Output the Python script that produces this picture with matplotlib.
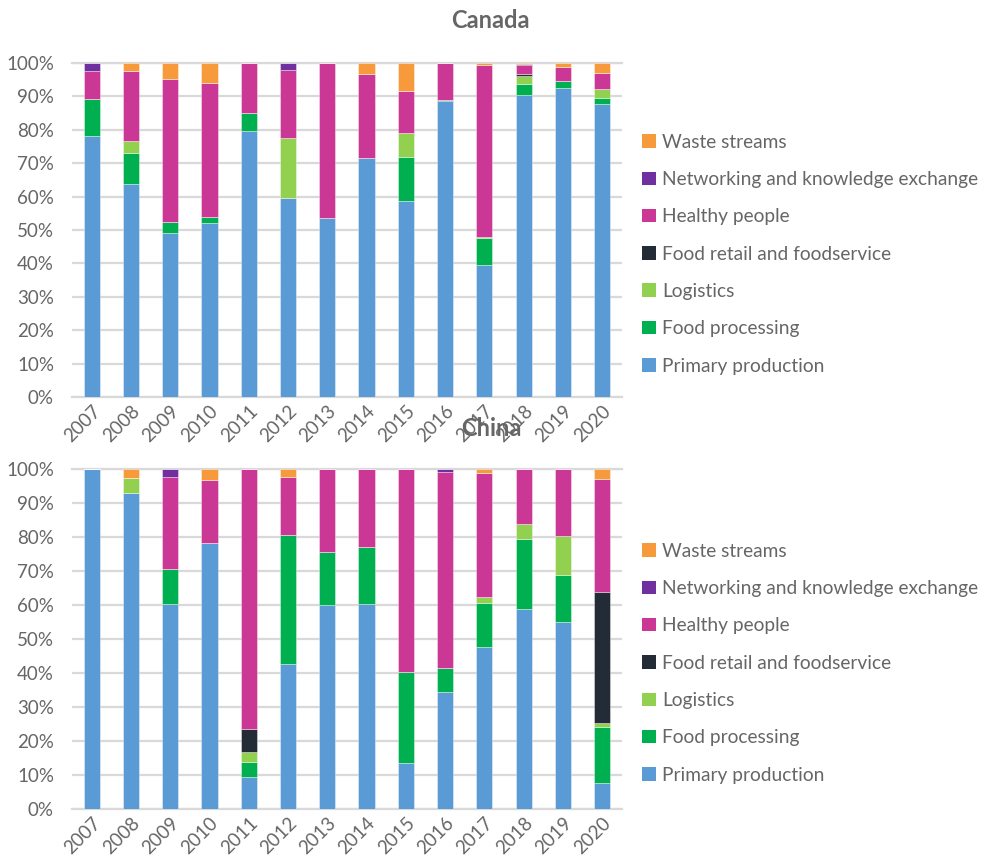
import matplotlib
matplotlib.use("Agg")
import matplotlib.pyplot as plt
from matplotlib.patches import Patch
import numpy as np

plt.rcParams['font.family'] = ['Lato', 'DejaVu Sans']

years = ['2007', '2008', '2009', '2010', '2011', '2012', '2013',
         '2014', '2015', '2016', '2017', '2018', '2019', '2020']

series_names = ['Primary production', 'Food processing', 'Logistics',
                'Food retail and foodservice', 'Healthy people',
                'Networking and knowledge exchange', 'Waste streams']
colors = ['#5B9BD5', '#00B050', '#92D050', '#232B36', '#CA3795', '#7030A0', '#F79A3B']

# Canada shares (%)
canada_primary    = [78.3, 63.9, 49.0, 52.2, 79.6, 59.7, 53.7, 71.7, 58.8, 88.5, 39.6, 90.3, 92.6, 87.8]
canada_processing = [11.0,  9.3,  3.5,  1.7,  5.5,  0.0,  0.0,  0.0, 13.1,  0.4,  8.1,  3.5,  2.1,  1.8]
canada_logistics  = [ 0.0,  3.4,  0.0,  0.0,  0.0, 18.0,  0.0,  0.0,  7.0,  0.0,  0.3,  2.3,  0.0,  2.6]
canada_retail     = [ 0.0,  0.0,  0.0,  0.0,  0.0,  0.0,  0.0,  0.0,  0.0,  0.0,  0.0,  0.6,  0.0,  0.0]
canada_healthy    = [ 8.3, 21.0, 42.8, 40.1, 14.9, 20.3, 46.3, 24.9, 12.7, 11.1, 51.3,  2.8,  4.1,  5.0]
canada_network    = [ 2.4,  0.0,  0.0,  0.0,  0.0,  2.0,  0.0,  0.0,  0.0,  0.0,  0.0,  0.3,  0.0,  0.0]
canada_waste      = [ 0.0,  2.4,  4.7,  6.0,  0.0,  0.0,  0.0,  3.4,  8.4,  0.0,  0.7,  0.2,  1.2,  2.9]

# China shares (%)
china_primary     = [100.0, 92.9, 60.4, 78.3,  9.5, 42.5, 60.1, 60.3, 13.6, 34.3, 47.6, 58.8, 55.0,  7.7]
china_processing  = [  0.0,  0.0, 10.1,  0.0,  4.3, 38.2, 15.4, 16.8, 26.6,  7.2, 12.9, 20.7, 13.7, 16.3]
china_logistics   = [  0.0,  4.4,  0.0,  0.0,  3.1,  0.0,  0.0,  0.0,  0.0,  0.0,  1.8,  4.4, 11.5,  1.4]
china_retail      = [  0.0,  0.0,  0.0,  0.0,  6.6,  0.0,  0.0,  0.0,  0.0,  0.0,  0.0,  0.0,  0.0, 38.4]
china_healthy     = [  0.0,  0.0, 27.1, 18.6, 76.5, 16.8, 24.5, 22.9, 59.8, 57.6, 36.4, 16.1, 19.8, 33.2]
china_network     = [  0.0,  0.0,  2.4,  0.0,  0.0,  0.0,  0.0,  0.0,  0.0,  0.9,  0.0,  0.0,  0.0,  0.0]
china_waste       = [  0.0,  2.7,  0.0,  3.1,  0.0,  2.5,  0.0,  0.0,  0.0,  0.0,  1.3,  0.0,  0.0,  3.0]

canada = [canada_primary, canada_processing, canada_logistics, canada_retail,
          canada_healthy, canada_network, canada_waste]
china = [china_primary, china_processing, china_logistics, china_retail,
         china_healthy, china_network, china_waste]

TEXT = '#666666'
GRID = '#D9D9D9'

fig = plt.figure(figsize=(9.96, 8.67), dpi=100)


def draw_panel(rect, data, title, title_xy, legend_y):
    ax = fig.add_axes(rect)
    x = np.arange(len(years))
    arr = np.array(data, dtype=float)
    totals = arr.sum(axis=0)
    shares = arr / totals
    bottom = np.zeros(len(years))
    for vals, col in zip(shares, colors):
        ax.bar(x, vals, width=0.41, bottom=bottom, color=col,
               edgecolor=(1, 1, 1, 0.45), linewidth=0.6, zorder=3)
        bottom += vals
    ax.set_xlim(-0.5, len(years) - 0.5)
    ax.set_ylim(0, 1)
    ticks = np.linspace(0, 1, 11)
    ax.set_yticks(ticks)
    ax.set_yticklabels([f'{int(round(v * 100))}%' for v in ticks],
                       fontsize=13.5, color=TEXT)
    ax.set_xticks(x)
    ax.set_xticklabels(years, rotation=45, ha='right', va='top',
                       rotation_mode='anchor', fontsize=13.5, color=TEXT)
    ax.tick_params(axis='y', length=0, pad=13)
    ax.tick_params(axis='x', length=0, pad=4)
    for s in ax.spines.values():
        s.set_visible(False)
    ax.grid(axis='y', color=GRID, linewidth=1.6, zorder=0)
    ax.set_axisbelow(True)
    ax.axhline(0, color=GRID, linewidth=1.6, zorder=1, clip_on=False)
    ax.axhline(1, color=GRID, linewidth=1.6, zorder=1, clip_on=False)

    handles = [Patch(facecolor=c, edgecolor='none') for c in colors]
    ax.legend(handles[::-1], series_names[::-1],
              loc='center left', bbox_to_anchor=(1.006, legend_y),
              frameon=False, fontsize=13.8, labelcolor=TEXT,
              handlelength=0.7, handleheight=0.7, handletextpad=0.35,
              labelspacing=1.06)
    fig.text(title_xy[0], title_xy[1], title, ha='center', va='center',
             fontsize=17, fontweight='bold', color=TEXT)
    return ax


draw_panel([0.0723, 0.5421, 0.552, 0.3852], canada, 'Canada',
           (490 / 996, 1 - 20 / 867), 0.428)
draw_panel([0.0723, 0.0669, 0.552, 0.3922], china, 'China',
           (491 / 996, 1 - 428 / 867), 0.429)

fig.savefig('out.png', dpi=100)
